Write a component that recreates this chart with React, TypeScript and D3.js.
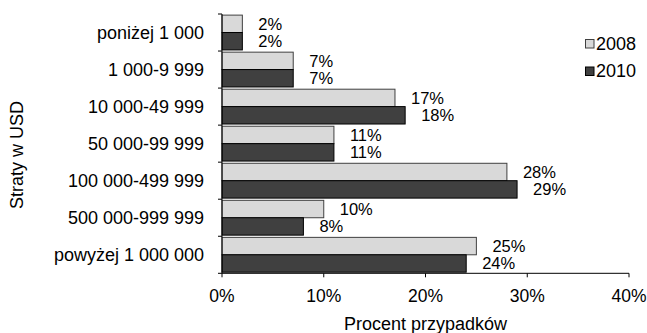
import React from "react";
import * as d3 from "d3";

const categories = [
  "poniżej 1 000",
  "1 000-9 999",
  "10 000-49 999",
  "50 000-99 999",
  "100 000-499 999",
  "500 000-999 999",
  "powyżej 1 000 000",
];
const series = ["2008", "2010"];
const values2008 = [2, 7, 17, 11, 28, 10, 25];
const values2010 = [2, 7, 18, 11, 29, 8, 24];
const xTicks = [0, 10, 20, 30, 40];
const xTitle = "Procent przypadków";
const yTitle = "Straty w USD";

const W = 647;
const H = 333;
const FONT = "'Liberation Sans', Arial, sans-serif";
const colors = ["#d9d9d9", "#404040"];
const strokes = ["#404040", "#000000"];

export default function App() {
  const m = { left: 222, right: 629, top: 14, bottom: 273.3 };
  const x = d3.scaleLinear().domain([0, 40]).range([m.left, m.right]);
  const y = d3.scaleBand<string>().domain(categories).range([m.top, m.bottom]).paddingInner(0.06).paddingOuter(0.03);
  const inner = d3.scaleBand<string>().domain(series).range([0, y.bandwidth()]);
  const step = (m.bottom - m.top) / categories.length;
  const data = [values2008, values2010];
  const fsBig = 18;
  const fsTick = 17.5;
  const fsLabel = 16.5;

  return (
    <svg width={W} height={H} style={{ position: "absolute", left: 0, top: 0, background: "#fff" }} fontFamily={FONT}>
      {/* bars */}
      {categories.map((c, i) =>
        series.map((s, j) => (
          <rect
            key={c + s}
            x={x(0)}
            y={(y(c) as number) + (inner(s) as number)}
            width={x(data[j][i]) - x(0)}
            height={inner.bandwidth()}
            fill={colors[j]}
            stroke={strokes[j]}
            strokeWidth={1}
          />
        ))
      )}
      {/* labels */}
      {categories.map((c, i) =>
        series.map((s, j) => (
          <text
            key={"l" + c + s}
            x={x(data[j][i]) + 16}
            y={(y(c) as number) + (inner(s) as number) + inner.bandwidth() / 2}
            dy="0.35em"
            fontSize={fsLabel}
            fill="#000"
          >
            {data[j][i]}%
          </text>
        ))
      )}
      {/* y axis */}
      <line x1={m.left} x2={m.left} y1={m.top} y2={m.bottom} stroke="#000" />
      {d3.range(categories.length + 1).map((k) => (
        <line key={"yt" + k} x1={m.left - 4} x2={m.left} y1={m.top + k * step} y2={m.top + k * step} stroke="#000" />
      ))}
      {categories.map((c) => (
        <text key={"yc" + c} x={204} y={(y(c) as number) + y.bandwidth() / 2} dy="0.35em" textAnchor="end" fontSize={fsBig}>
          {c}
        </text>
      ))}
      {/* x axis */}
      <line x1={m.left} x2={m.right} y1={m.bottom} y2={m.bottom} stroke="#000" />
      {xTicks.map((t) => (
        <g key={"xt" + t}>
          <line x1={x(t)} x2={x(t)} y1={m.bottom} y2={m.bottom + 4} stroke="#000" />
          <text x={x(t)} y={302} textAnchor="middle" fontSize={fsTick}>
            {t}%
          </text>
        </g>
      ))}
      <text x={(m.left + m.right) / 2} y={330} textAnchor="middle" fontSize={fsBig}>
        {xTitle}
      </text>
      <text transform={`translate(23,155) rotate(-90)`} textAnchor="middle" fontSize={fsBig}>
        {yTitle}
      </text>
      {/* legend */}
      {series.map((s, j) => (
        <g key={"lg" + s} transform={`translate(585,${43.5 + j * 27.5})`}>
          <rect x={0.5} y={-4} width={8.5} height={8.5} fill={colors[j]} stroke={strokes[j]} />
          <text x={11} y={0} dy="0.35em" fontSize={fsBig}>
            {s}
          </text>
        </g>
      ))}
    </svg>
  );
}
